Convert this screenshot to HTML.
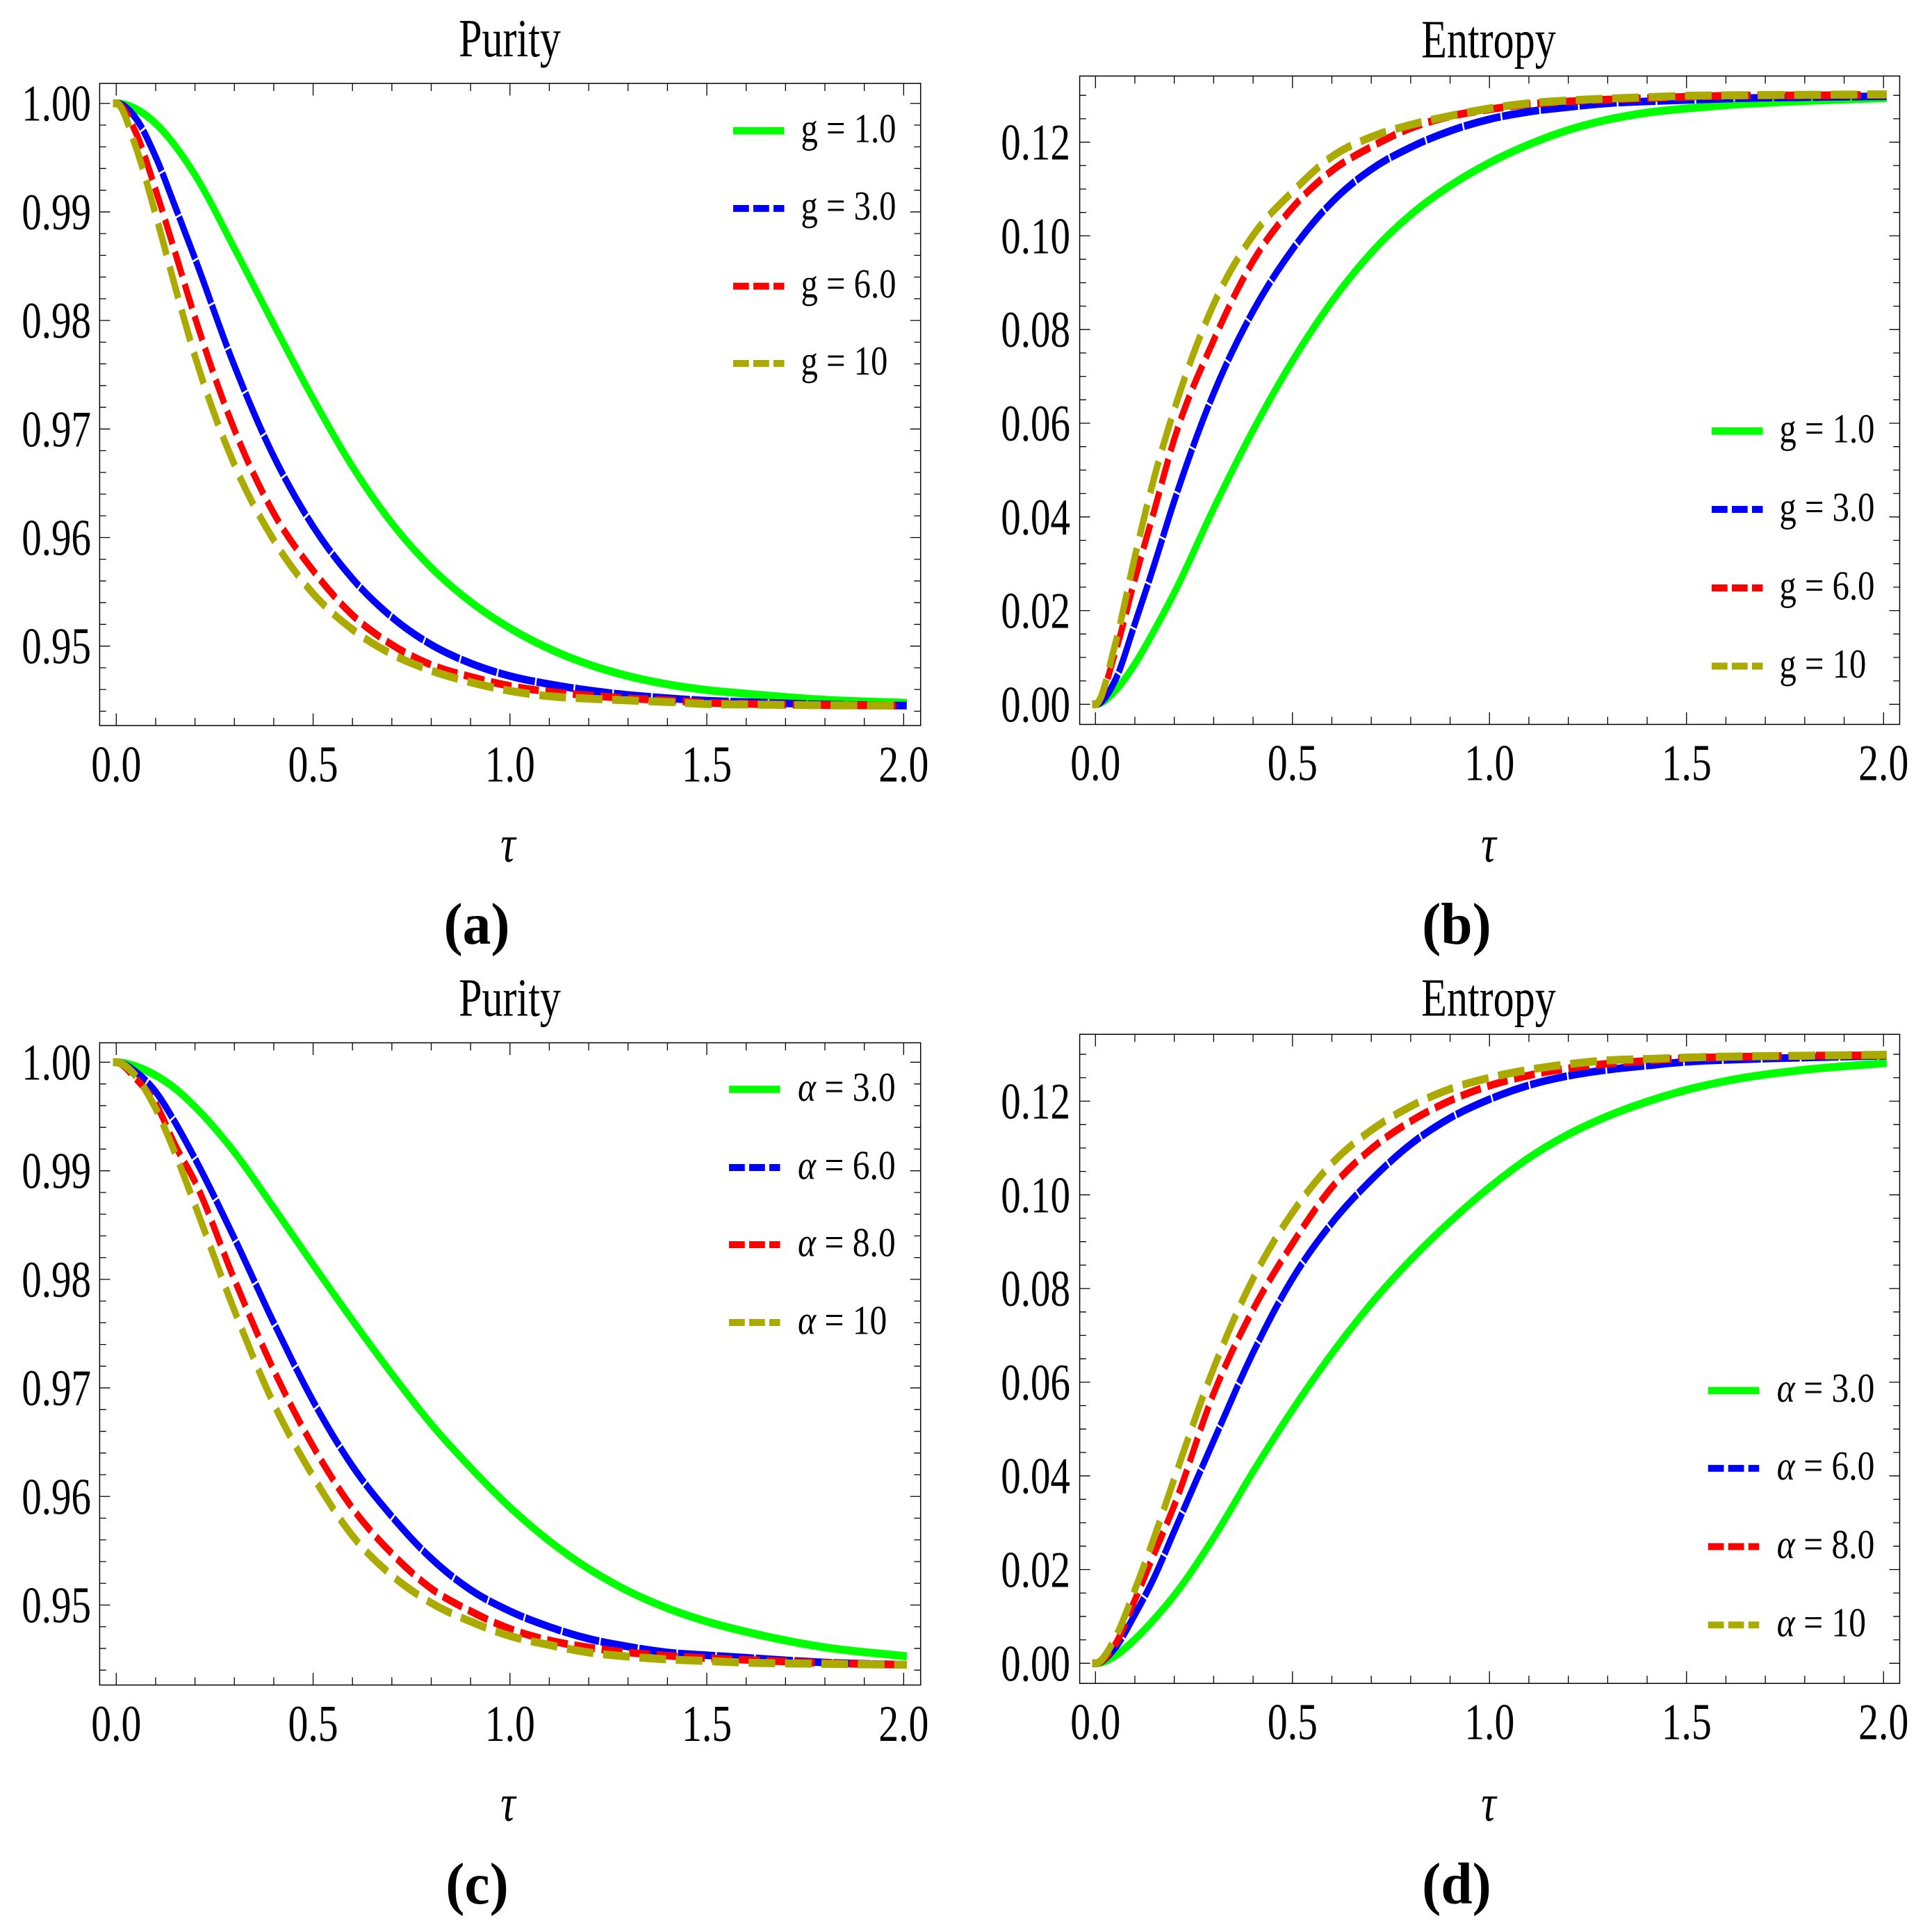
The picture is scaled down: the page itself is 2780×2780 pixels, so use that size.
<!DOCTYPE html>
<html lang="en">
<head>
<meta charset="utf-8">
<title>Purity and Entropy versus tau</title>
<style>
html,body{margin:0;padding:0;background:#fff;}
svg{display:block;}
text{font-family:"Liberation Serif","DejaVu Serif",serif;fill:#000;}
</style>
</head>
<body>
<svg id="fig" xmlns="http://www.w3.org/2000/svg" width="2780" height="2780" viewBox="0 0 2780 2780">
<rect x="0" y="0" width="2780" height="2780" fill="#fff"/>
<text transform="translate(733.5,81) scale(.78,1)" font-size="77" text-anchor="middle">Purity</text>
<text transform="translate(2142,82.6) scale(.78,1)" font-size="77" text-anchor="middle">Entropy</text>
<text transform="translate(733.5,1461.5) scale(.78,1)" font-size="77" text-anchor="middle">Purity</text>
<text transform="translate(2142,1461.6) scale(.78,1)" font-size="77" text-anchor="middle">Entropy</text>
<text transform="translate(731,1240) scale(.8,1)" font-size="75" font-style="italic" text-anchor="middle">τ</text>
<text transform="translate(2142,1240) scale(.8,1)" font-size="75" font-style="italic" text-anchor="middle">τ</text>
<text transform="translate(731,2620) scale(.8,1)" font-size="75" font-style="italic" text-anchor="middle">τ</text>
<text transform="translate(2142,2620) scale(.8,1)" font-size="75" font-style="italic" text-anchor="middle">τ</text>
<text transform="translate(686,1358) scale(.96,1)" font-size="85" font-weight="bold" text-anchor="middle">(a)</text>
<text transform="translate(2096,1358) scale(.96,1)" font-size="85" font-weight="bold" text-anchor="middle">(b)</text>
<text transform="translate(686.5,2739) scale(.96,1)" font-size="85" font-weight="bold" text-anchor="middle">(c)</text>
<text transform="translate(2096,2739) scale(.96,1)" font-size="85" font-weight="bold" text-anchor="middle">(d)</text>
</svg>
<script>
// ---- shared axis categories and tick labels ----
const tau = [0,.05,.1,.15,.2,.3,.4,.5,.6,.7,.8,.9,1,1.1,1.2,1.3,1.4,1.5,1.6,1.8,2];
const xTickLabels = ['0.0','0.5','1.0','1.5','2.0'];
const purityTickLabels = ['0.95','0.96','0.97','0.98','0.99','1.00'];
const entropyTickLabels = ['0.00','0.02','0.04','0.06','0.08','0.10','0.12'];
const gLegendValues = ['1.0','3.0','6.0','10'];
const alphaLegendValues = ['3.0','6.0','8.0','10'];

// ---- panel (a) purity, varying g ----
const aGreen = [1,.99948,.99815,.99607,.99341,.98665,.97963,.97280,.96653,.96133,.95723,.95408,.95165,.94975,.94831,.94724,.94648,.94595,.94561,.94505,.94478];
const aBlue  = [1,.99861,.99508,.99045,.98570,.97583,.96748,.96103,.95621,.95267,.95013,.94842,.94724,.94649,.94592,.94550,.94520,.94497,.94485,.94462,.94452];
const aRed   = [1,.99728,.99204,.98620,.98027,.96995,.96224,.95696,.95286,.95013,.94827,.94717,.94633,.94580,.94546,.94519,.94500,.94478,.94468,.94456,.94452];
const aOlive = [1,.99595,.98976,.98304,.97670,.96672,.95977,.95484,.95153,.94926,.94774,.94667,.94588,.94538,.94516,.94500,.94485,.94466,.94462,.94455,.94452];

// ---- panel (b) entropy, varying g ----
const bGreen = [0,.0029,.0086,.0159,.0238,.0418,.0585,.0733,.0860,.0964,.1045,.1107,.1156,.1195,.1226,.1248,.1263,.1272,.1279,.1288,.1294];
const bBlue  = [0,.0051,.0172,.0300,.0434,.0664,.0839,.0971,.1072,.1142,.1189,.1224,.1249,.1265,.1275,.1283,.1287,.1290,.1293,.1296,.1298];
const bRed   = [0,.0110,.0267,.0416,.0566,.0777,.0946,.1060,.1139,.1190,.1230,.1255,.1270,.1281,.1287,.1291,.1294,.1297,.1299,.1300,.1301];
const bOlive = [0,.0128,.0315,.0487,.0629,.0854,.1001,.1094,.1169,.1211,.1237,.1256,.1272,.1283,.1289,.1293,.1296,.1299,.1300,.1301,.1302];

// ---- panel (c) purity, varying alpha ----
const cGreen = [1,.99962,.99879,.99757,.99590,.99172,.98660,.98136,.97623,.97130,.96667,.96265,.95900,.95590,.95334,.95129,.94970,.94848,.94753,.94610,.94530];
const cBlue  = [1,.99909,.99727,.99442,.99112,.98379,.97601,.96879,.96279,.95816,.95429,.95140,.94943,.94799,.94689,.94617,.94563,.94537,.94514,.94470,.94450];
const cRed   = [1,.99848,.99620,.99233,.98899,.97999,.97164,.96462,.95892,.95475,.95152,.94943,.94780,.94674,.94609,.94563,.94533,.94510,.94495,.94465,.94450];
const cOlive = [1,.99871,.99575,.99157,.98683,.97714,.96853,.96185,.95638,.95273,.95019,.94848,.94715,.94632,.94563,.94525,.94499,.94484,.94469,.94458,.94450];

// ---- panel (d) entropy, varying alpha ----
const dGreen = [0,.0016,.0051,.0095,.0145,.0268,.0409,.0541,.0661,.0768,.0861,.0943,.1016,.1079,.1129,.1168,.1199,.1224,.1243,.1267,.1281];
const dBlue  = [0,.0033,.0104,.0185,.0282,.0475,.0663,.0821,.0940,.1032,.1108,.1164,.1204,.1234,.1254,.1267,.1276,.1284,.1288,.1293,.1297];
const dRed   = [0,.0040,.0135,.0236,.0337,.0576,.0755,.0896,.1016,.1098,.1157,.1201,.1233,.1255,.1270,.1280,.1286,.1292,.1294,.1297,.1298];
const dOlive = [0,.0054,.0157,.0271,.0394,.0630,.0821,.0962,.1067,.1138,.1189,.1226,.1250,.1267,.1279,.1287,.1290,.1293,.1295,.1297,.1299];

// ---- drawing ----
const NS = 'http://www.w3.org/2000/svg';
const svg = document.getElementById('fig');
const SQUEEZE = 0.8; // the figure is compressed horizontally; dashes are measured before the squeeze
const COLORS = ['#00ff00','#0000ff','#ff0000','#aaaa00'];
const SERIES_NAMES = ['green','blue','red','olive'];
const CURVE_DASH = [null,'56 14','26.5 23','36.5 29'];
const CURVE_WIDTH = [11.5,11,11,11.5];

function el(tag, attrs, parent) {
  const e = document.createElementNS(NS, tag);
  for (const k in attrs) e.setAttribute(k, attrs[k]);
  parent.appendChild(e);
  return e;
}
function linear(d0, d1, r0, r1) {
  return v => r0 + (v - d0) / (d1 - d0) * (r1 - r0);
}
function smoothPath(pts) {
  // piecewise cubic through the data with non-uniform three-point tangents; flat start
  const n = pts.length, m = new Array(n);
  m[0] = 0;
  for (let i = 1; i < n - 1; i++) {
    const h0 = pts[i][0] - pts[i - 1][0], h1 = pts[i + 1][0] - pts[i][0];
    const d0 = (pts[i][1] - pts[i - 1][1]) / h0, d1 = (pts[i + 1][1] - pts[i][1]) / h1;
    m[i] = (h1 * d0 + h0 * d1) / (h0 + h1);
  }
  m[n - 1] = (pts[n - 1][1] - pts[n - 2][1]) / (pts[n - 1][0] - pts[n - 2][0]);
  let d = 'M' + pts[0][0].toFixed(2) + ' ' + pts[0][1].toFixed(2);
  for (let i = 0; i < n - 1; i++) {
    const h = pts[i + 1][0] - pts[i][0];
    d += 'C' + (pts[i][0] + h / 3).toFixed(2) + ' ' + (pts[i][1] + m[i] * h / 3).toFixed(2) + ' ' +
         (pts[i + 1][0] - h / 3).toFixed(2) + ' ' + (pts[i + 1][1] - m[i + 1] * h / 3).toFixed(2) + ' ' +
         pts[i + 1][0].toFixed(2) + ' ' + pts[i + 1][1].toFixed(2);
  }
  return d;
}

function drawPanel(cfg) {
  const g = el('g', {}, svg);
  
  

  const x = linear(cfg.xDomain[0], cfg.xDomain[1], cfg.left, cfg.right);
  const y = linear(cfg.yDomain[0], cfg.yDomain[1], cfg.bottom, cfg.top);

  // frame
  const frame = el('rect', {x: cfg.left, y: cfg.top, width: cfg.right - cfg.left, height: cfg.bottom - cfg.top, fill: 'none', stroke: '#000', 'stroke-width': 1.5}, g);
  
  

  // x ticks on both edges
  for (let i = 0; i <= 20; i++) {
    const major = i % 5 === 0;
    const px = x(i / 10);
    const len = major ? 17.5 : 11;
    const t = el('path', {d: 'M' + px + ' ' + cfg.bottom + 'V' + (cfg.bottom - len) + 'M' + px + ' ' + cfg.top + 'V' + (cfg.top + len), stroke: '#000', 'stroke-width': 1.3, fill: 'none'}, g);
    
    
  }
  xTickLabels.forEach(function (lab) {
    const t = el('text', {transform: 'translate(' + x(parseFloat(lab)) + ',' + (cfg.bottom + 80.3) + ') scale(.78,1)', 'font-size': 74, 'text-anchor': 'middle'}, g);
    t.textContent = lab;
    
    
  });

  // y ticks on both edges
  for (let i = 0; i <= cfg.yMinorCount; i++) {
    const v = cfg.yMinorStart + i * cfg.yMinorStep;
    const major = i % cfg.yMajorEvery === cfg.yMajorOffset;
    const py = y(v);
    const len = major ? 15 : 9.3;
    const t = el('path', {d: 'M' + cfg.left + ' ' + py + 'H' + (cfg.left + len) + 'M' + cfg.right + ' ' + py + 'H' + (cfg.right - len), stroke: '#000', 'stroke-width': 1.3, fill: 'none'}, g);
    
    
  }
  cfg.yLabels.forEach(function (lab) {
    const t = el('text', {transform: 'translate(' + cfg.yLabelRight + ',' + (y(parseFloat(lab)) + 25) + ') scale(.77,1)', 'font-size': 74, 'text-anchor': 'end'}, g);
    t.textContent = lab;
    
    
  });

  // curves: drawn in un-squeezed space so dash lengths follow the original aspect
  const marks = el('g', {transform: 'scale(' + SQUEEZE + ',1)'}, g);
  
  
  cfg.series.forEach(function (vals, s) {
    const pts = tau.map((t, i) => [x(t) / SQUEEZE, y(vals[i])]);
    const attrs = {d: smoothPath(pts), fill: 'none', stroke: COLORS[s], 'stroke-width': CURVE_WIDTH[s], 'stroke-linecap': 'square', 'stroke-linejoin': 'round'};
    if (CURVE_DASH[s]) attrs['stroke-dasharray'] = CURVE_DASH[s];
    const p = el('path', attrs, marks);
    
    
  });

  // legend
  cfg.legendY.forEach(function (ly, s) {
    const entry = el('g', {}, g);
    
    
    const lineAttrs = {x1: cfg.legendX, x2: cfg.legendX + 73.5, y1: ly, y2: ly, stroke: COLORS[s], 'stroke-width': s === 0 ? 10.6 : 9.9};
    if (s > 0) lineAttrs['stroke-dasharray'] = '22.7 6.3';
    const line = el('line', lineAttrs, entry);
    
    
    const txt = el('text', {transform: 'translate(' + cfg.legendTextX + ',' + (ly + 16.3) + ') scale(' + cfg.legendScale + ',1)', 'font-size': 59}, entry);
    
    
    const sym = el('tspan', cfg.legendItalic ? {'font-style': 'italic'} : {}, txt);
    sym.textContent = cfg.legendSymbol;
    const rest = el('tspan', {}, txt);
    rest.textContent = ' = ' + cfg.legendValues[s];
  });
}

drawPanel({
  id: 'a', left: 143.4, right: 1324.7, top: 120, bottom: 1044,
  xDomain: [-0.0422, 2.0431], yDomain: [0.94268, 1.00184],
  yMinorStart: 0.944, yMinorStep: 0.002, yMinorCount: 28, yMajorEvery: 5, yMajorOffset: 3,
  yLabels: purityTickLabels, yLabelRight: 131,
  series: [aGreen, aBlue, aRed, aOlive],
  legendX: 1055, legendTextX: 1152.5, legendScale: .825, legendY: [188.2, 299.9, 411.8, 522.9],
  legendSymbol: 'g', legendItalic: false, legendValues: gLegendValues
});
drawPanel({
  id: 'b', left: 1553.6, right: 2733.5, top: 109.4, bottom: 1042.4,
  xDomain: [-0.04, 2.041], yDomain: [-0.0043, 0.13412],
  yMinorStart: 0, yMinorStep: 0.005, yMinorCount: 26, yMajorEvery: 4, yMajorOffset: 0,
  yLabels: entropyTickLabels, yLabelRight: 1540,
  series: [bGreen, bBlue, bRed, bOlive],
  legendX: 2463, legendTextX: 2560.5, legendScale: .825, legendY: [620.3, 733, 846, 958.5],
  legendSymbol: 'g', legendItalic: false, legendValues: gLegendValues
});
drawPanel({
  id: 'c', left: 143.4, right: 1324.7, top: 1500.5, bottom: 2424.6,
  xDomain: [-0.0422, 2.0431], yDomain: [0.94263, 1.00179],
  yMinorStart: 0.944, yMinorStep: 0.002, yMinorCount: 28, yMajorEvery: 5, yMajorOffset: 3,
  yLabels: purityTickLabels, yLabelRight: 131,
  series: [cGreen, cBlue, cRed, cOlive],
  legendX: 1049, legendTextX: 1148, legendScale: .84, legendY: [1567.5, 1680, 1791, 1903],
  legendSymbol: 'α', legendItalic: true, legendValues: alphaLegendValues
});
drawPanel({
  id: 'd', left: 1553.6, right: 2733.5, top: 1488.3, bottom: 2422.3,
  xDomain: [-0.04, 2.041], yDomain: [-0.0043, 0.13427],
  yMinorStart: 0, yMinorStep: 0.005, yMinorCount: 26, yMajorEvery: 4, yMajorOffset: 0,
  yLabels: entropyTickLabels, yLabelRight: 1540,
  series: [dGreen, dBlue, dRed, dOlive],
  legendX: 2457.8, legendTextX: 2556.8, legendScale: .84, legendY: [2000.9, 2112.8, 2225.5, 2338.2],
  legendSymbol: 'α', legendItalic: true, legendValues: alphaLegendValues
});
</script>
</body>
</html>
